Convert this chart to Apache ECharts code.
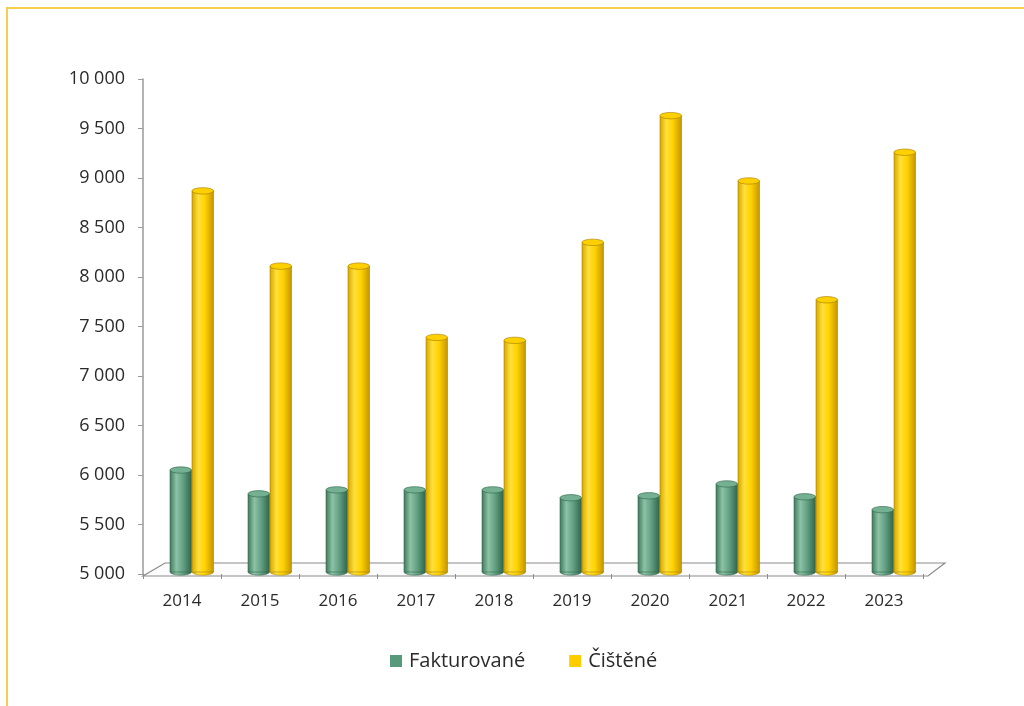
<!DOCTYPE html>
<html>
<head>
<meta charset="utf-8">
<script src="https://cdn.jsdelivr.net/npm/echarts@6/dist/echarts.min.js"></script>
<style>
  html, body { margin: 0; padding: 0; background: #fff; }
  #frame { position: absolute; left: 6px; top: 7px; right: 0; bottom: 0;
           border-top: 2px solid #f5cf4e; border-left: 2px solid #f5cf4e; }
  #chart { position: absolute; left: 0; top: 0; width: 1024px; height: 706px; }
</style>
</head>
<body>
<div id="frame"></div>
<div id="chart"></div>
<script>
var categories = ['2014', '2015', '2016', '2017', '2018', '2019', '2020', '2021', '2022', '2023'];
var fakturovane = [6050, 5810, 5850, 5850, 5850, 5770, 5790, 5910, 5780, 5650];
var cistene = [8870, 8110, 8110, 7390, 7360, 8350, 9630, 8970, 7770, 9260];
var seriesNames = ['Fakturované', 'Čištěné'];
var yMin = 5000, yMax = 10000, yStep = 500;

var GRID = { left: 143, right: 101, top: 79, bottom: 132 };
var FONT = '"Open Sans", "Noto Sans", sans-serif';
var TEXT = '#2a2a2a';

var palettes = [
  { edgeL: '#3c765a', light: '#8cc2a6', mid: '#64a184', edgeR: '#2e634a', top: '#73b192', stroke: '#37694f', legend: '#579a7a' },
  { edgeL: '#d6a500', light: '#ffe03a', mid: '#ffd200', edgeR: '#c49400', top: '#ffd000', stroke: '#a98300', legend: '#ffcc00' }
];

function makeRender(sIdx) {
  var p = palettes[sIdx];
  return function (params, api) {
    var idx = api.value(0), val = api.value(1);
    var c = api.coord([idx, val]);
    var b = api.coord([idx, yMin]);
    var bw = 21.5;
    var left = c[0] + (sIdx === 0 ? -12 : 10);
    var cx = left + bw / 2;
    var topY = c[1], botY = b[1] - 2;
    var ry = 3.2;
    var grad = new echarts.graphic.LinearGradient(0, 0, 1, 0, [
      { offset: 0, color: p.edgeL }, { offset: 0.3, color: p.light },
      { offset: 0.6, color: p.mid }, { offset: 1, color: p.edgeR }
    ]);
    return {
      type: 'group',
      children: [
        { type: 'circle', x: cx, y: botY, scaleY: ry / (bw / 2),
          shape: { cx: 0, cy: 0, r: bw / 2 }, style: { fill: grad, stroke: p.stroke, lineWidth: 0.8 } },
        { type: 'rect', shape: { x: left, y: topY, width: bw, height: botY - topY },
          style: { fill: grad, stroke: p.stroke, lineWidth: 0.6 } },
        { type: 'circle', x: cx, y: topY, scaleY: ry / (bw / 2),
          shape: { cx: 0, cy: 0, r: bw / 2 }, style: { fill: p.top, stroke: p.stroke, lineWidth: 1 } }
      ]
    };
  };
}

function toData(arr) { return arr.map(function (v, i) { return [i, v]; }); }

var chart = echarts.init(document.getElementById('chart'), null, { renderer: 'canvas' });

var gl = GRID.left, gr = 1024 - GRID.right, gb = 706 - GRID.bottom;
var option = {
  backgroundColor: 'transparent',
  animation: false,
  grid: GRID,
  graphic: [{
    type: 'polygon', z: 0, silent: true,
    shape: { points: [[gl, gb + 2], [gr + 5, gb + 2], [gr + 22, gb - 11], [gl + 22, gb - 11]] },
    style: { fill: '#fcfcfc', stroke: '#8c8c8c', lineWidth: 1.2 }
  }],
  legend: {
    data: seriesNames.map(function (n, i) {
      return { name: n, icon: 'rect', itemStyle: { color: palettes[i].legend } };
    }),
    left: 385, top: 646,
    itemWidth: 12, itemHeight: 12, itemGap: 44,
    textStyle: { fontFamily: FONT, fontSize: 20, color: TEXT, padding: [0, 0, 0, 2] }
  },
  xAxis: {
    type: 'category', data: categories,
    axisLine: { show: false },
    axisTick: { show: true, length: 5, lineStyle: { color: '#8c8c8c' } },
    axisLabel: { margin: 19, fontFamily: FONT, fontSize: 17, color: TEXT }
  },
  yAxis: {
    type: 'value', min: yMin, max: yMax, interval: yStep,
    axisLine: { show: true, lineStyle: { color: '#9a9a9a', width: 1.5 } },
    axisTick: { show: true, length: 5, lineStyle: { color: '#9a9a9a' } },
    splitLine: { show: false },
    axisLabel: {
      margin: 18, fontFamily: FONT, fontSize: 18, color: TEXT,
      formatter: function (v) { return String(v).replace(/\B(?=(\d{3})+(?!\d))/g, ' '); }
    }
  },
  series: [
    { name: seriesNames[0], type: 'custom', z: 3, renderItem: makeRender(0),
      itemStyle: { color: palettes[0].legend }, encode: { x: 0, y: 1 }, data: toData(fakturovane) },
    { name: seriesNames[1], type: 'custom', z: 3, renderItem: makeRender(1),
      itemStyle: { color: palettes[1].legend }, encode: { x: 0, y: 1 }, data: toData(cistene) }
  ]
};
chart.setOption(option);
</script>
</body>
</html>
